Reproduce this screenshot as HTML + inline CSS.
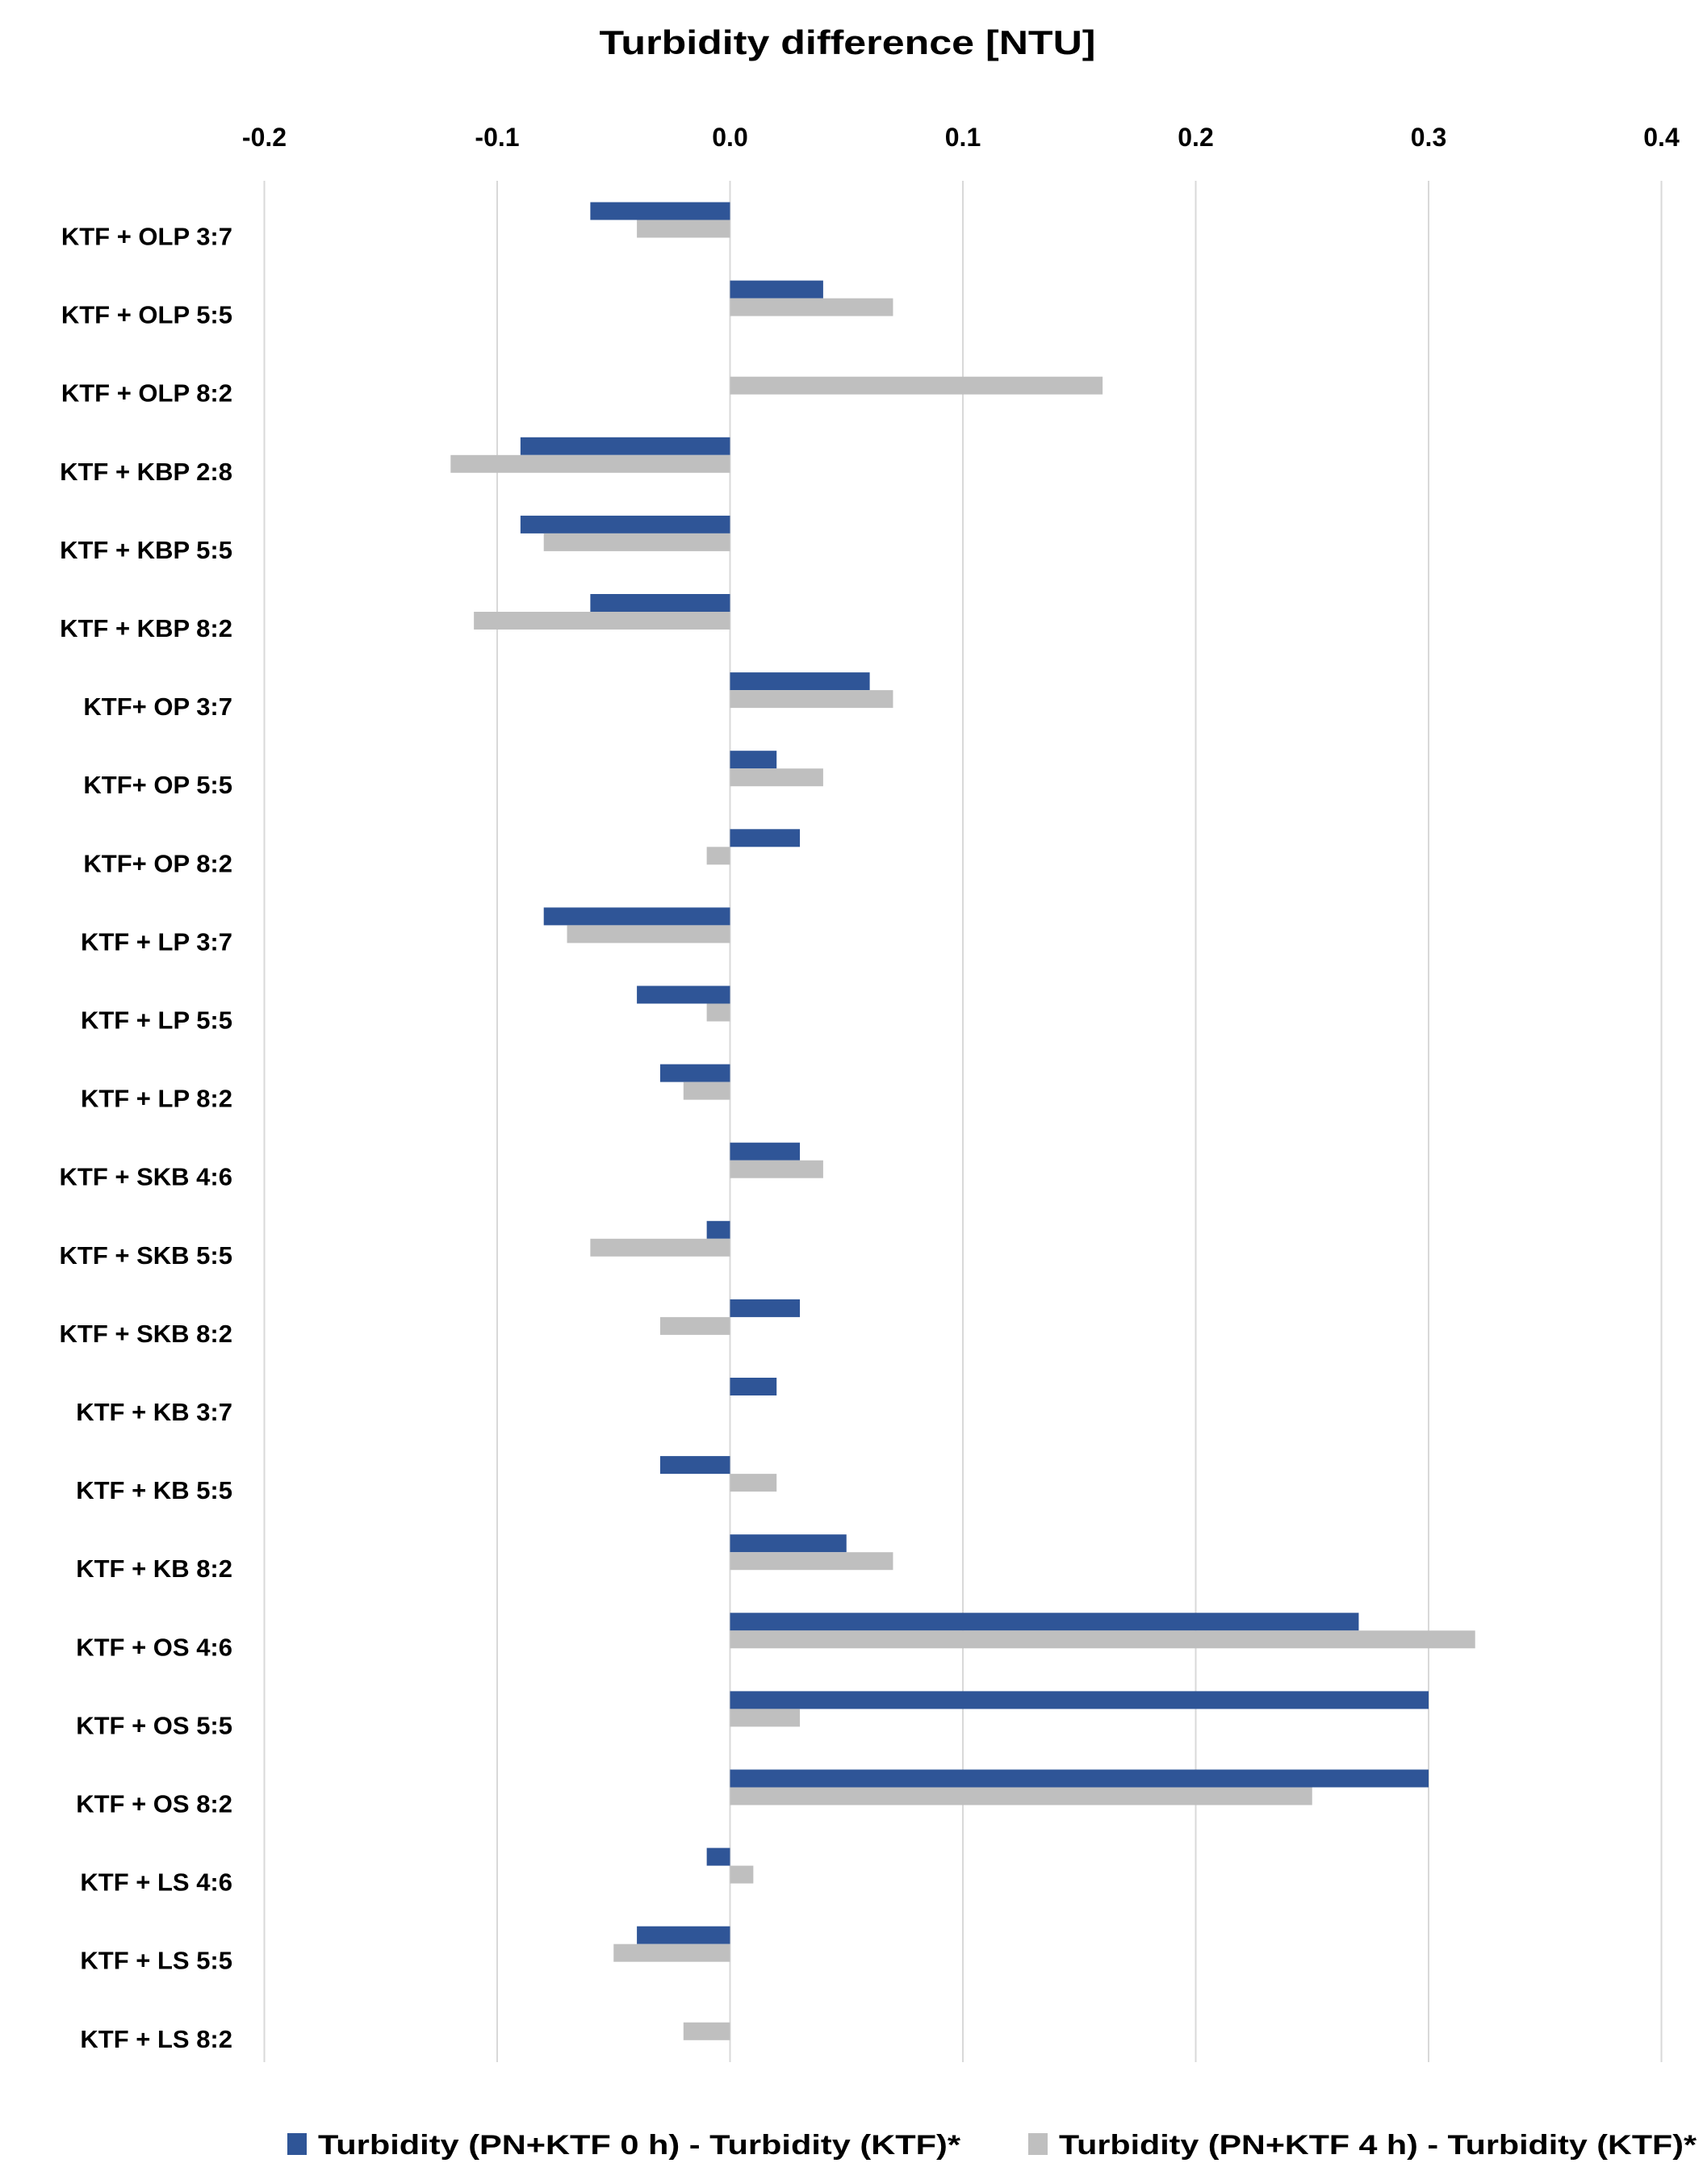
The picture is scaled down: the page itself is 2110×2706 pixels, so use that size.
<!DOCTYPE html>
<html><head><meta charset="utf-8"><style>
html,body{margin:0;padding:0;background:#fff;}
svg{display:block;font-family:"Liberation Sans",sans-serif;font-weight:bold;}
</style></head><body>
<svg width="2110" height="2706" viewBox="0 0 2110 2706" xmlns="http://www.w3.org/2000/svg">
<rect width="2110" height="2706" fill="#fff"/>
<text x="1050" y="67" font-size="42" text-anchor="middle" textLength="615" lengthAdjust="spacingAndGlyphs">Turbidity difference [NTU]</text>
<g font-size="32" text-anchor="middle">
<text x="327.5" y="181">-0.2</text><text x="616" y="181">-0.1</text><text x="904.5" y="181">0.0</text>
<text x="1193" y="181">0.1</text><text x="1481.5" y="181">0.2</text><text x="1770" y="181">0.3</text><text x="2058.5" y="181">0.4</text>
</g>
<g stroke="#d9d9d9" stroke-width="2">
<line x1="327.5" y1="224" x2="327.5" y2="2555"/><line x1="616" y1="224" x2="616" y2="2555"/><line x1="904.5" y1="224" x2="904.5" y2="2555"/>
<line x1="1193" y1="224" x2="1193" y2="2555"/><line x1="1481.5" y1="224" x2="1481.5" y2="2555"/><line x1="1770" y1="224" x2="1770" y2="2555"/><line x1="2058.5" y1="224" x2="2058.5" y2="2555"/>
</g>
<g transform="translate(904.5,0) scale(2885,1)">
<g fill="#2F5597">
<rect x="-0.06" y="250.5" width="0.06" height="22"/>
<rect x="0" y="347.6" width="0.04" height="22"/>
<rect x="-0.09" y="541.8" width="0.09" height="22"/>
<rect x="-0.09" y="638.9" width="0.09" height="22"/>
<rect x="-0.06" y="736" width="0.06" height="22"/>
<rect x="0" y="833.1" width="0.06" height="22"/>
<rect x="0" y="930.2" width="0.02" height="22"/>
<rect x="0" y="1027.3" width="0.03" height="22"/>
<rect x="-0.08" y="1124.4" width="0.08" height="22"/>
<rect x="-0.04" y="1221.5" width="0.04" height="22"/>
<rect x="-0.03" y="1318.6" width="0.03" height="22"/>
<rect x="0" y="1415.7" width="0.03" height="22"/>
<rect x="-0.01" y="1512.8" width="0.01" height="22"/>
<rect x="0" y="1609.9" width="0.03" height="22"/>
<rect x="0" y="1707" width="0.02" height="22"/>
<rect x="-0.03" y="1804.1" width="0.03" height="22"/>
<rect x="0" y="1901.2" width="0.05" height="22"/>
<rect x="0" y="1998.3" width="0.27" height="22"/>
<rect x="0" y="2095.4" width="0.30" height="22"/>
<rect x="0" y="2192.5" width="0.30" height="22"/>
<rect x="-0.01" y="2289.6" width="0.01" height="22"/>
<rect x="-0.04" y="2386.7" width="0.04" height="22"/>
</g>
<g fill="#BFBFBF">
<rect x="-0.04" y="272.5" width="0.04" height="22"/>
<rect x="0" y="369.6" width="0.07" height="22"/>
<rect x="0" y="466.7" width="0.16" height="22"/>
<rect x="-0.12" y="563.8" width="0.12" height="22"/>
<rect x="-0.08" y="660.9" width="0.08" height="22"/>
<rect x="-0.11" y="758" width="0.11" height="22"/>
<rect x="0" y="855.1" width="0.07" height="22"/>
<rect x="0" y="952.2" width="0.04" height="22"/>
<rect x="-0.01" y="1049.3" width="0.01" height="22"/>
<rect x="-0.07" y="1146.4" width="0.07" height="22"/>
<rect x="-0.01" y="1243.5" width="0.01" height="22"/>
<rect x="-0.02" y="1340.6" width="0.02" height="22"/>
<rect x="0" y="1437.7" width="0.04" height="22"/>
<rect x="-0.06" y="1534.8" width="0.06" height="22"/>
<rect x="-0.03" y="1631.9" width="0.03" height="22"/>
<rect x="0" y="1826.1" width="0.02" height="22"/>
<rect x="0" y="1923.2" width="0.07" height="22"/>
<rect x="0" y="2020.3" width="0.32" height="22"/>
<rect x="0" y="2117.4" width="0.03" height="22"/>
<rect x="0" y="2214.5" width="0.25" height="22"/>
<rect x="0" y="2311.6" width="0.01" height="22"/>
<rect x="-0.05" y="2408.7" width="0.05" height="22"/>
<rect x="-0.02" y="2505.8" width="0.02" height="22"/>
</g>
</g>
<g font-size="31" text-anchor="end">
<text x="288" y="303.5">KTF + OLP 3:7</text>
<text x="288" y="400.6">KTF + OLP 5:5</text>
<text x="288" y="497.7">KTF + OLP 8:2</text>
<text x="288" y="594.8">KTF + KBP 2:8</text>
<text x="288" y="691.9">KTF + KBP 5:5</text>
<text x="288" y="789">KTF + KBP 8:2</text>
<text x="288" y="886.1">KTF+ OP 3:7</text>
<text x="288" y="983.2">KTF+ OP 5:5</text>
<text x="288" y="1080.3">KTF+ OP 8:2</text>
<text x="288" y="1177.4">KTF + LP 3:7</text>
<text x="288" y="1274.5">KTF + LP 5:5</text>
<text x="288" y="1371.6">KTF + LP 8:2</text>
<text x="288" y="1468.7">KTF + SKB 4:6</text>
<text x="288" y="1565.8">KTF + SKB 5:5</text>
<text x="288" y="1662.9">KTF + SKB 8:2</text>
<text x="288" y="1760">KTF + KB 3:7</text>
<text x="288" y="1857.1">KTF + KB 5:5</text>
<text x="288" y="1954.2">KTF + KB 8:2</text>
<text x="288" y="2051.3">KTF + OS 4:6</text>
<text x="288" y="2148.4">KTF + OS 5:5</text>
<text x="288" y="2245.5">KTF + OS 8:2</text>
<text x="288" y="2342.6">KTF + LS 4:6</text>
<text x="288" y="2439.7">KTF + LS 5:5</text>
<text x="288" y="2536.8">KTF + LS 8:2</text>
</g>
<rect x="356" y="2643" width="24" height="27" fill="#2F5597"/>
<text x="394" y="2669" font-size="34" textLength="796" lengthAdjust="spacingAndGlyphs">Turbidity (PN+KTF 0 h) - Turbidity (KTF)*</text>
<rect x="1274" y="2643" width="24" height="27" fill="#BFBFBF"/>
<text x="1312" y="2669" font-size="34" textLength="790" lengthAdjust="spacingAndGlyphs">Turbidity (PN+KTF 4 h) - Turbidity (KTF)*</text>
</svg>
</body></html>
